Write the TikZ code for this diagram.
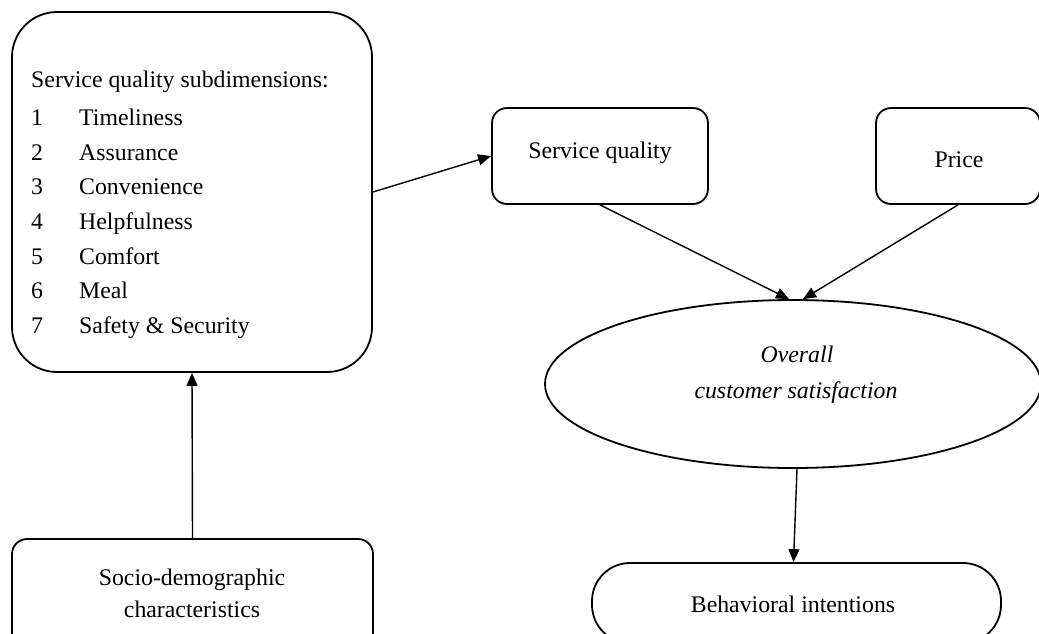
\documentclass[tikz,border=0pt]{standalone}
\usepackage{fontspec}
\setmainfont{Liberation Serif}
\usetikzlibrary{arrows.meta,shapes.geometric}
\begin{document}
\begin{tikzpicture}[x=1pt,y=-1pt,
  box/.style={draw,line width=1.8pt,inner sep=0pt},
  lbl/.style={font=\fontsize{23.8}{28}\selectfont,inner sep=0pt},
  arr/.style={line width=1.4pt,-{Triangle[length=13pt,width=11pt]}}]
\clip (0,0) rectangle (1039,633);
\useasboundingbox (0,0) rectangle (1039,633);
% shapes
\node[box,rounded corners=45pt,minimum width=360pt,minimum height=360pt] (sub) at (192,192) {};
\node[box,rounded corners=15pt,minimum width=216pt,minimum height=96pt] (sq) at (600,156) {};
\node[box,rounded corners=15pt,minimum width=164pt,minimum height=96pt] (pr) at (958,156) {};
\node[box,ellipse,minimum width=496pt,minimum height=168pt] (sat) at (793,384) {};
\node[box,rounded corners=38pt,minimum width=409pt,minimum height=80pt] (bi) at (796.5,603) {};
\node[box,rounded corners=15pt,minimum width=361pt,minimum height=110pt] (soc) at (192.5,594) {};
% texts
\node[lbl,anchor=base west] (t0) at (31,87) {Service quality subdimensions:};
\foreach \n/\t [count=\i] in {1/Timeliness,2/Assurance,3/Convenience,4/Helpfulness,5/Comfort,6/Meal,7/Safety \& Security}{
  \node[lbl,anchor=base west] (n\i) at (31,91+34.6*\i) {\n};
  \node[lbl,anchor=base west] (l\i) at (79,91+34.6*\i) {\t};
}
\node[lbl] (tsq) at (600,153) {Service quality};
\node[lbl] (tpr) at (959,160) {Price};
\node[lbl] (ts1) at (797,354) {\itshape Overall};
\node[lbl] (ts2) at (796,393) {\itshape customer satisfaction};
\node[lbl] (tbi) at (793,604) {Behavioral intentions};
\node[lbl,align=center] (tsoc) at (192,593) {Socio-demographic\\[4pt]characteristics};
% connectors
\draw[arr] (soc.north) -- (sub.south);
\draw[arr] (sub.east) -- (sq.west);
\draw[arr] (sq.south) -- ([xshift=-4pt]sat.north);
\draw[arr] (pr.south) -- ([xshift=10pt]sat.north);
\draw[arr] ([xshift=4pt]sat.south) -- ([xshift=-3pt]bi.north);
\end{tikzpicture}
\end{document}
